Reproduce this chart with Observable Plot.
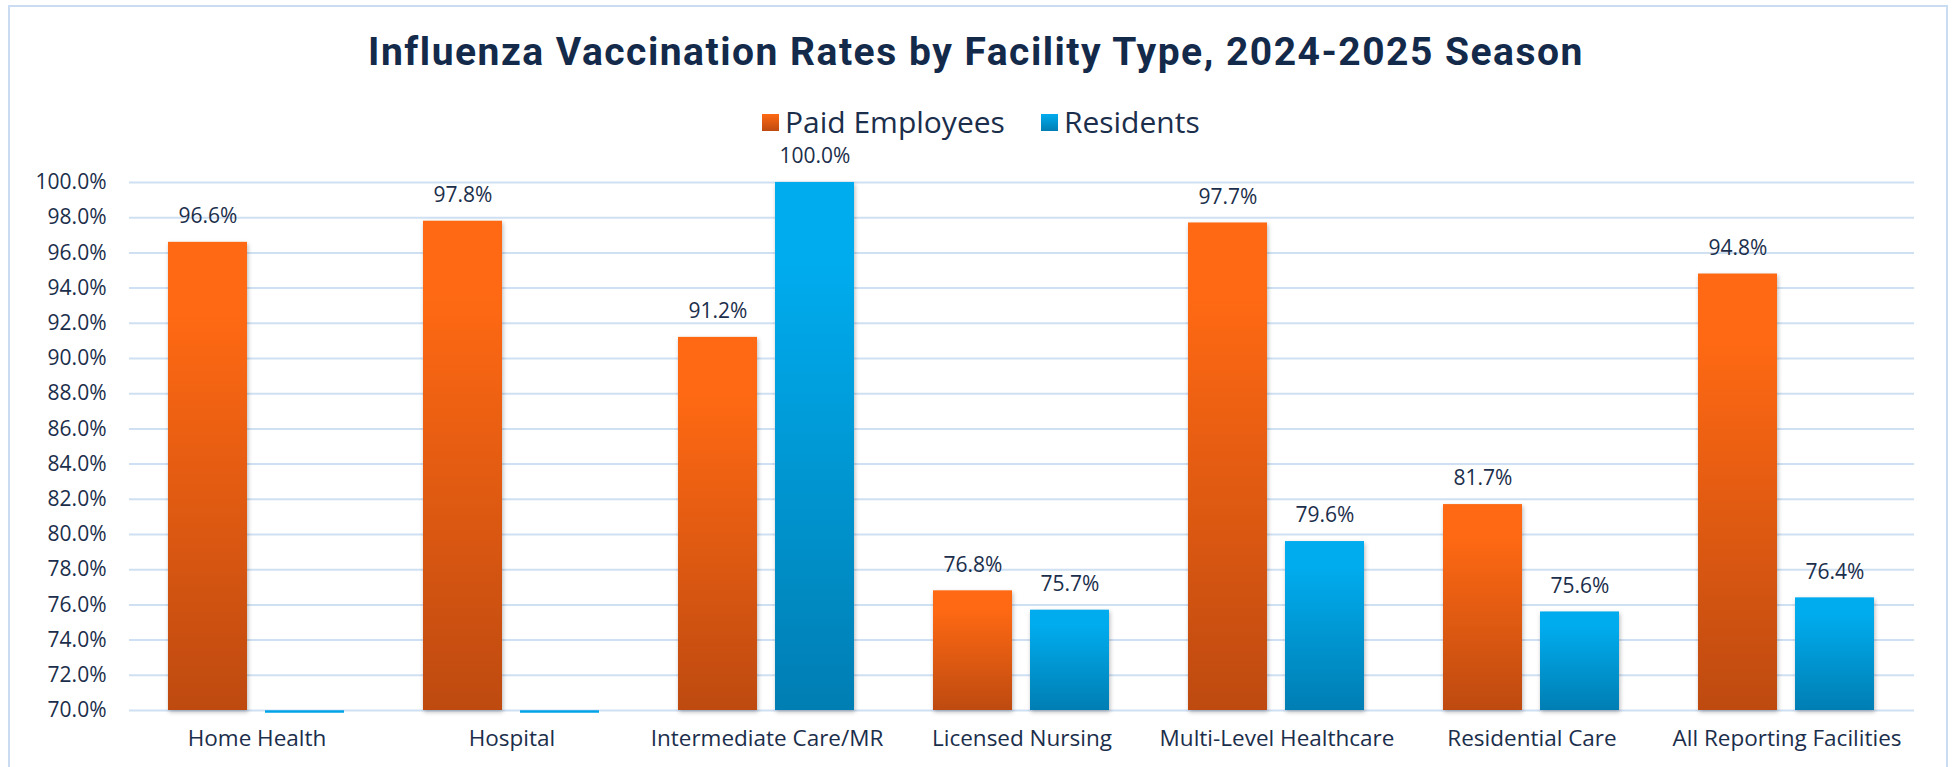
<!DOCTYPE html>
<html><head><meta charset="utf-8">
<script src="https://cdn.jsdelivr.net/npm/d3@7"></script>
<script src="https://cdn.jsdelivr.net/npm/@observablehq/plot@0.6"></script>
<style>
html,body{margin:0;padding:0;background:#fff;}
body{width:1952px;height:767px;overflow:hidden;position:relative;font-family:"Open Sans",sans-serif;}
#frame{position:absolute;left:8px;top:5px;width:1940px;height:820px;border:2.5px solid #cadcf1;box-sizing:border-box;}
#title{position:absolute;left:0;width:1952px;top:33px;text-align:center;font-weight:bold;font-size:39px;letter-spacing:1.5px;line-height:1;font-family:"Roboto",sans-serif;color:#142a4a;}
#legend{position:absolute;left:762px;top:107px;display:flex;align-items:center;font-size:30px;line-height:1;color:#1b2e4b;}
#legend .sw{width:17px;height:17px;margin-right:6px;}
#legend .item{display:flex;align-items:center;margin-right:36px;}
#chart{position:absolute;left:0;top:135px;}
#chart rect{filter:drop-shadow(1px 2px 2px rgba(0,0,0,0.28));}
</style>
</head><body>
<div id="frame"></div>
<div id="title">Influenza Vaccination Rates by Facility Type, 2024-2025 Season</div>
<div id="legend"></div>
<div id="chart"></div>
<script>
const categories = ["Home Health","Hospital","Intermediate Care/MR","Licensed Nursing","Multi-Level Healthcare","Residential Care","All Reporting Facilities"];
const series = ["Paid Employees","Residents"];
const paidEmployees = [96.6,97.8,91.2,76.8,97.7,81.7,94.8];
const residents = [0,0,100.0,75.7,79.6,75.6,76.4];
const yTicks = [70,72,74,76,78,80,82,84,86,88,90,92,94,96,98,100];
const gradTop = ["#ff6913","#00acee"];
const gradBottom = ["#be4a10","#007eb3"];
const gradIds = ["gradPaid","gradRes"];

const data = categories.flatMap((c,i)=>[
  {category:c, series:series[0], value:paidEmployees[i]},
  {category:c, series:series[1], value:residents[i]}
]);
const fmt = d => d.toFixed(1) + "%";
const ink = "#1b2e4b";

// legend
const legend = d3.select("#legend");
series.forEach((s,i)=>{
  const it = legend.append("div").attr("class","item");
  it.append("div").attr("class","sw").style("background",`linear-gradient(${gradTop[i]},${gradBottom[i]})`);
  it.append("span").text(s);
});

const plot = Plot.plot({
  width:1952, height:632,
  marginLeft:128, marginRight:37, marginTop:47, marginBottom:57,
  style:{fontFamily:"'Open Sans',sans-serif", fontSize:"21px", color:ink, background:"transparent", overflow:"visible"},
  fx:{domain:categories, padding:0, label:null, tickSize:0, tickPadding:20, axis:"bottom"},
  x:{domain:series, paddingInner:0.1837, paddingOuter:0.393, axis:null},
  y:{domain:[70,100], clamp:true, ticks:yTicks, tickFormat:fmt, tickSize:0, tickPadding:23, label:null},
  color:{domain:series, range:gradIds.map(id=>`url(#${id})`)},
  marks:[
    Plot.ruleY(yTicks,{stroke:"#cfe0f3", strokeWidth:2}),
    Plot.barY(data.filter(d=>d.value>70), {fx:"category", x:"series", y:"value", fill:"series"}),
    Plot.tickY(data.filter(d=>d.value<=70), {fx:"category", x:"series", y:"value", stroke:"#00a3e6", strokeWidth:2.5, dy:1}),
    Plot.text(data.filter(d=>d.value>70), {fx:"category", x:"series", y:"value", text:d=>fmt(d.value), dy:-26, fill:ink, fontSize:21})
  ]
});
const svg = d3.select(plot);
svg.selectAll('g[aria-label="fx-axis tick label"]').attr("font-size", 22.5);
const defs = svg.insert("defs",":first-child");
gradIds.forEach((id,i)=>{
  const g = defs.append("linearGradient").attr("id",id).attr("x1",0).attr("y1",0).attr("x2",0).attr("y2",1);
  g.append("stop").attr("offset","0%").attr("stop-color",gradTop[i]);
  g.append("stop").attr("offset","15%").attr("stop-color",gradTop[i]);
  g.append("stop").attr("offset","100%").attr("stop-color",gradBottom[i]);
});
document.getElementById("chart").appendChild(plot);
</script>
</body></html>
